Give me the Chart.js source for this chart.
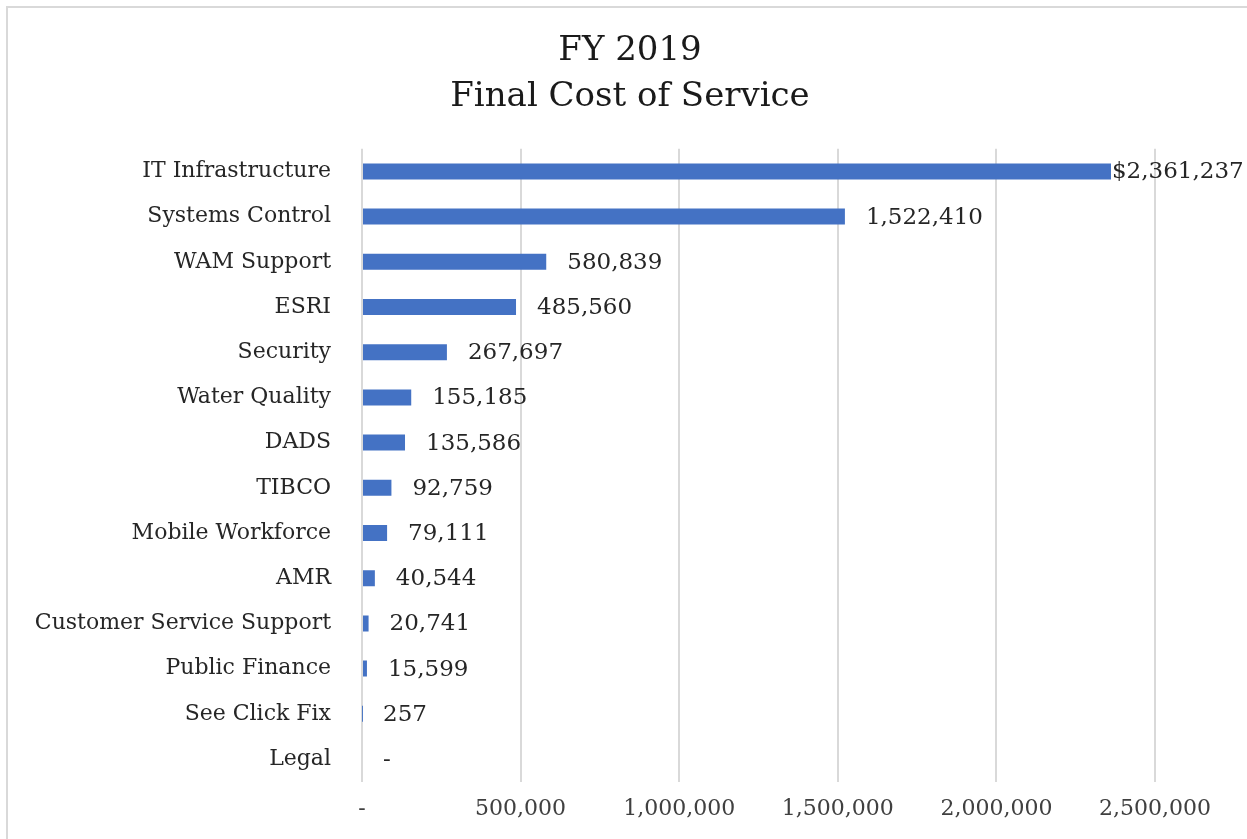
<!DOCTYPE html>
<html lang="en">
<head>
  <meta charset="UTF-8">
  <title>FY 2019 Final Cost of Service</title>
  <script src="https://cdn.jsdelivr.net/npm/chart.js"></script>
  <style>
    html, body {
      margin: 0;
      padding: 0;
      background: #ffffff;
      overflow: hidden;
    }
    .frame {
      position: absolute;
      left: 6px;
      top: 6px;
      width: 1400px;
      height: 1000px;
      border-left: 2px solid #d9d9d9;
      border-top: 2px solid #d9d9d9;
    }
    .chart-box {
      position: absolute;
      left: 0;
      top: 0;
      width: 1260px;
      height: 839px;
    }
  </style>
</head>
<body>
  <div class="frame"></div>
  <div class="chart-box">
    <canvas id="costChart"></canvas>
  </div>
  <script>
    // Data
    const categories = [
      'IT Infrastructure', 'Systems Control', 'WAM Support', 'ESRI', 'Security',
      'Water Quality', 'DADS', 'TIBCO', 'Mobile Workforce', 'AMR',
      'Customer Service Support', 'Public Finance', 'See Click Fix', 'Legal'
    ];
    const costs = [
      2361237, 1522410, 580839, 485560, 267697,
      155185, 135586, 92759, 79111, 40544,
      20741, 15599, 257, 0
    ];
    const xTicks = [0, 500000, 1000000, 1500000, 2000000, 2500000];

    const serif = "'DejaVu Serif', 'Liberation Serif', serif";

    function fmt(v) {
      return v === 0 ? '-' : v.toLocaleString('en-US');
    }

    // Value labels to the right of each bar
    const valueLabels = {
      id: 'valueLabels',
      afterDatasetsDraw(chart) {
        const ctx = chart.ctx;
        const meta = chart.getDatasetMeta(0);
        ctx.save();
        ctx.font = '23px ' + serif;
        ctx.fillStyle = '#262626';
        ctx.textAlign = 'left';
        ctx.textBaseline = 'middle';
        meta.data.forEach((bar, i) => {
          const v = costs[i];
          const text = i === 0 ? '$' + fmt(v) : fmt(v);
          const off = i === 0 ? 1 : 21;
          ctx.fillText(text, bar.x + off, bar.y + 1);
        });
        ctx.restore();
      }
    };

    new Chart(document.getElementById('costChart'), {
      type: 'bar',
      data: {
        labels: categories,
        datasets: [{
          data: costs,
          backgroundColor: '#4472c4',
          borderWidth: 0,
          categoryPercentage: 1,
          barPercentage: 0.355
        }]
      },
      plugins: [valueLabels],
      options: {
        indexAxis: 'y',
        responsive: true,
        maintainAspectRatio: false,
        animation: false,
        layout: {
          padding: { left: 8, right: 8, top: 8, bottom: 3 }
        },
        plugins: {
          legend: { display: false },
          tooltip: { enabled: false },
          title: {
            display: true,
            text: ['FY 2019', 'Final Cost of Service'],
            color: '#1a1a1a',
            font: { family: serif, size: 34, weight: 'normal', lineHeight: 1.35 },
            padding: { top: 20, bottom: 29 }
          }
        },
        scales: {
          x: {
            min: 0,
            max: 2500000,
            afterBuildTicks(scale) {
              scale.ticks = xTicks.map(v => ({ value: v }));
            },
            ticks: {
              color: '#404040',
              font: { family: serif, size: 22 },
              padding: 14,
              maxRotation: 0,
              callback: v => fmt(v)
            },
            grid: {
              color: '#d9d9d9',
              lineWidth: 2,
              drawTicks: false
            },
            border: { display: false }
          },
          y: {
            afterFit(scale) {
              scale.width = 354;
            },
            ticks: {
              color: '#262626',
              font: { family: serif, size: 22 },
              padding: 31
            },
            grid: { display: false, drawTicks: false },
            border: { display: false }
          },
          // empty spacer on the right: leaves room for the last value label
          // while the title stays centred on the whole chart
          spacer: {
            type: 'category',
            position: 'right',
            afterFit(scale) {
              scale.width = 97;
            },
            ticks: { display: false },
            grid: { display: false, drawTicks: false },
            border: { display: false }
          }
        }
      }
    });
  </script>
</body>
</html>
